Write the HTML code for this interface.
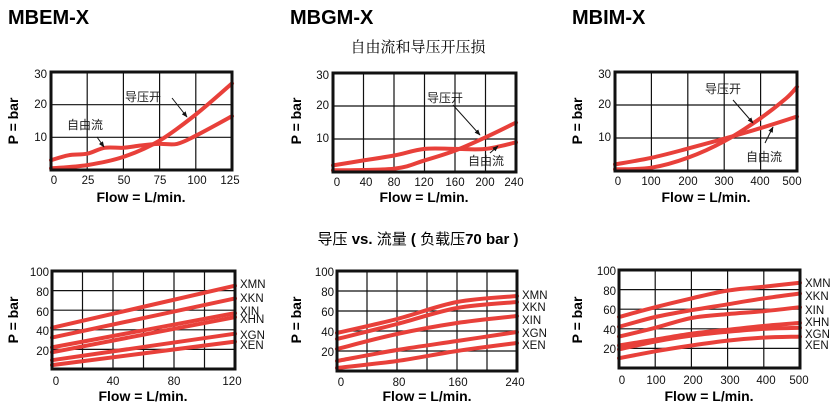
<!DOCTYPE html>
<html><head><meta charset="utf-8"><style>
body{margin:0;background:#fff;width:835px;height:408px;overflow:hidden}
svg text{font-family:"Liberation Sans","Noto Sans CJK SC",sans-serif}
</style></head><body>
<svg id="s" width="835" height="408" xmlns="http://www.w3.org/2000/svg" style="position:absolute;left:0;top:0">
<defs><marker id="ah" viewBox="0 0 10 10" refX="9" refY="5" markerWidth="6" markerHeight="6" orient="auto"><path d="M0 1 L10 5 L0 9 Z" fill="#111"/></marker></defs>
<g font-weight="bold" font-size="20">
<text x="8" y="24">MBEM-X</text><text x="290" y="24">MBGM-X</text><text x="572" y="24">MBIM-X</text>
</g>
<text x="418" y="52" font-size="15" text-anchor="middle" style="font-family:'Noto Serif CJK SC','Noto Sans CJK SC',serif">自由流和导压开压损</text>
<text x="418" y="244" font-size="15" text-anchor="middle">导压 <tspan font-weight="bold">vs.</tspan> 流量 <tspan font-weight="bold">(</tspan> 负载压<tspan font-weight="bold">70 bar )</tspan></text>
<g font-size="14" font-weight="bold" text-anchor="middle">
<text x="141" y="202">Flow = L/min.</text><text x="424" y="202">Flow = L/min.</text><text x="706" y="202">Flow = L/min.</text>
<text x="143" y="401">Flow = L/min.</text><text x="427" y="401">Flow = L/min.</text><text x="709" y="401">Flow = L/min.</text>
<text transform="translate(18,121) rotate(-90)">P = bar</text>
<text transform="translate(301,121) rotate(-90)">P = bar</text>
<text transform="translate(582,121) rotate(-90)">P = bar</text>
<text transform="translate(18,320) rotate(-90)">P = bar</text>
<text transform="translate(301,320) rotate(-90)">P = bar</text>
<text transform="translate(582,320) rotate(-90)">P = bar</text>
</g>
<g font-size="12" fill="#222">
<text x="125" y="101">导压开</text><text x="67" y="129">自由流</text>
<text x="427" y="102">导压开</text><text x="468" y="165">自由流</text>
<text x="705" y="93">导压开</text><text x="746" y="161">自由流</text>
</g>
<g font-size="11.5" fill="#111">
<text x="240" y="288">XMN</text><text x="240" y="302">XKN</text><text x="240" y="315">XIN</text><text x="240" y="323">XHN</text><text x="240" y="339">XGN</text><text x="240" y="349">XEN</text>
<text x="522" y="299">XMN</text><text x="522" y="311">XKN</text><text x="522" y="324">XIN</text><text x="522" y="337">XGN</text><text x="522" y="349">XEN</text>
<text x="805" y="287">XMN</text><text x="805" y="300">XKN</text><text x="805" y="314">XIN</text><text x="805" y="326">XHN</text><text x="805" y="338">XGN</text><text x="805" y="349">XEN</text>
</g>
<g id="plots"></g>
<g stroke="#111" stroke-width="1" fill="none" marker-end="url(#ah)">
<path d="M172 98 L187 117"/><path d="M97 137 L104 147"/>
<path d="M453 105 L480 135"/><path d="M490 153 L498 146"/>
<path d="M733 100 L753 123"/><path d="M765 143 L773 127"/>
</g>
<g font-size="11.5" fill="#111">
<g text-anchor="end">
<text x="47" y="78">30</text><text x="47" y="108">20</text><text x="47" y="141">10</text>
<text x="329" y="79">30</text><text x="329" y="109">20</text><text x="329" y="142">10</text>
<text x="611" y="78">30</text><text x="611" y="108">20</text><text x="611" y="141">10</text>
<text x="49" y="276">100</text><text x="49" y="296">80</text><text x="49" y="316">60</text><text x="49" y="335">40</text><text x="49" y="355">20</text>
<text x="334" y="276">100</text><text x="334" y="296">80</text><text x="334" y="316">60</text><text x="334" y="336">40</text><text x="334" y="356">20</text>
<text x="616" y="275">100</text><text x="616" y="295">80</text><text x="616" y="314">60</text><text x="616" y="334">40</text><text x="616" y="353">20</text>
</g>
<g text-anchor="middle">
<text x="54" y="184">0</text><text x="88" y="184">25</text><text x="124" y="184">50</text><text x="160" y="184">75</text><text x="197" y="184">100</text><text x="230" y="184">125</text>
<text x="337" y="186">0</text><text x="366" y="186">40</text><text x="394" y="186">80</text><text x="424" y="186">120</text><text x="455" y="186">160</text><text x="485" y="186">200</text><text x="514" y="186">240</text>
<text x="618" y="185">0</text><text x="651" y="185">100</text><text x="688" y="185">200</text><text x="724" y="185">300</text><text x="760" y="185">400</text><text x="792" y="185">500</text>
<text x="56" y="385">0</text><text x="113" y="385">40</text><text x="174" y="385">80</text><text x="232" y="385">120</text>
<text x="341" y="386">0</text><text x="399" y="386">80</text><text x="458" y="386">160</text><text x="515" y="386">240</text>
<text x="622" y="384">0</text><text x="656" y="384">100</text><text x="693" y="384">200</text><text x="730" y="384">300</text><text x="766" y="384">400</text><text x="799" y="384">500</text>
</g>
</g>
</svg>
<script>
const NS="http://www.w3.org/2000/svg";
function el(t,a,p){const e=document.createElementNS(NS,t);for(const k in a)e.setAttribute(k,a[k]);p.appendChild(e);return e;}
const plots=document.getElementById('plots');
const C=[
{b:[51,232,72,170],xm:125,ym:30,xs:[25,50,75,100],ys:[10,20],s:[
[[0,.5],[25,1.5],[50,4],[75,9],[100,17],[125,26.5]],
[[0,3],[12,4.5],[25,5],[37,6.8],[50,6.8],[62,7.5],[75,8],[87,8],[100,10.5],[125,16.5]]]},
{b:[333,516,73,172],xm:240,ym:30,xs:[40,80,120,160,200],ys:[10,20],s:[
[[0,.5],[80,1],[120,3.5],[160,6.5],[200,10.5],[240,15]],
[[0,2],[40,3.5],[80,5],[120,7],[160,7],[200,7],[240,9]]]},
{b:[615,797,72,171],xm:500,ym:30,xs:[100,200,300,400],ys:[10,20],s:[
[[0,.5],[100,1],[200,4],[300,9],[400,16],[470,22],[500,25.5]],
[[0,2],[100,4],[200,6.8],[300,9.8],[400,13],[500,16.5]]]},
{b:[52,235,271,369],xm:120,ym:100,xs:[20,40,60,80,100],ys:[20,40,60,80],s:[
[[0,42],[120,85]],[[0,32],[120,72]],[[0,22],[120,57]],[[0,17],[120,53]],[[0,9],[120,36]],[[0,4],[120,28]]]},
{b:[337,517,271,371],xm:240,ym:100,xs:[40,80,120,160,200],ys:[20,40,60,80],s:[
[[0,38],[80,52],[160,69],[240,75]],[[0,32],[80,47],[160,63],[240,69]],[[0,22],[80,37],[160,48],[240,55]],[[0,10],[80,21],[160,30],[240,39]],[[0,3],[80,10],[160,20],[240,28]]]},
{b:[619,800,270,368],xm:500,ym:100,xs:[100,200,300,400],ys:[20,40,60,80],s:[
[[0,52],[100,62],[200,71],[300,79],[400,83],[500,87]],[[0,42],[100,52],[200,59],[300,65],[400,71],[500,76]],[[0,32],[100,41],[200,51],[300,55],[400,58],[500,62]],[[0,23],[100,29],[200,35],[300,39],[400,43],[500,46]],[[0,19],[100,27],[200,33],[300,37],[400,40],[500,41]],[[0,10],[100,17],[200,23],[300,28],[400,31],[500,32]]]}
];
function smooth(P){let d='M'+P[0][0].toFixed(1)+' '+P[0][1].toFixed(1);
for(let i=0;i<P.length-1;i++){const p0=P[i-1]||P[i],p1=P[i],p2=P[i+1],p3=P[i+2]||p2;
const c1=[p1[0]+(p2[0]-p0[0])/6,p1[1]+(p2[1]-p0[1])/6],c2=[p2[0]-(p3[0]-p1[0])/6,p2[1]-(p3[1]-p1[1])/6];
d+='C'+c1.map(v=>v.toFixed(1)).join(' ')+' '+c2.map(v=>v.toFixed(1)).join(' ')+' '+p2[0].toFixed(1)+' '+p2[1].toFixed(1);}
return d;}
C.forEach(c=>{
const[x0,x1,y0,y1]=c.b;const X=v=>x0+(x1-x0)*v/c.xm,Y=v=>y1-(y1-y0)*v/c.ym;
const g=el('g',{},plots);
c.xs.forEach(v=>el('line',{x1:X(v),x2:X(v),y1:y0,y2:y1,stroke:'#111','stroke-width':1.2},g));
c.ys.forEach(v=>el('line',{x1:x0,x2:x1,y1:Y(v),y2:Y(v),stroke:'#111','stroke-width':1.2},g));
c.s.forEach(s=>{el('path',{d:smooth(s.map(p=>[X(p[0]),Y(p[1])])),fill:'none',stroke:'#e8403a','stroke-width':4,'stroke-linejoin':'round','stroke-linecap':'round'},g);});
el('rect',{x:x0,y:y0,width:x1-x0,height:y1-y0,fill:'none',stroke:'#111','stroke-width':3},g);
});
</script>
</body></html>
